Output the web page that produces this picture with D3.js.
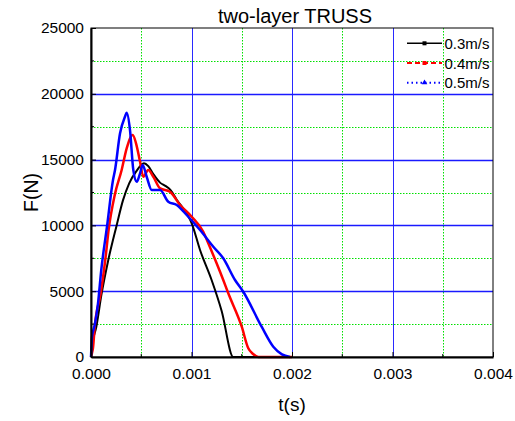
<!DOCTYPE html>
<html>
<head>
<meta charset="utf-8">
<script src="https://cdn.jsdelivr.net/npm/d3@7"></script>
<style>
    body { margin: 0; background: #fff; }
    svg { font-family: 'Liberation Sans', Arial, sans-serif; }
</style>
</head>
<body>
<svg id="chart" width="515" height="421"></svg>
<script>
'use strict';

// series values: [t (s), F (N)]
var speed03 = [
    [0, 0], [0.000008, 800], [0.00002, 1300], [0.000053, 2300], [0.000103, 4700], [0.000170, 7300],
    [0.000255, 10000], [0.000318, 11900], [0.000380, 13200], [0.000450, 14100], [0.000527, 14720],
    [0.000570, 14500], [0.000620, 13900], [0.000687, 13250], [0.000740, 13000], [0.000790, 12700],
    [0.000853, 11950], [0.000952, 10900], [0.001002, 10160], [0.001085, 8130], [0.001200, 5850],
    [0.001300, 3500], [0.001416, 0], [0.002000, 0]
];
var speed04 = [
    [0, 0], [0.00001, 300], [0.00002, 700], [0.000037, 2300], [0.000097, 4860], [0.000142, 7370],
    [0.000176, 9700], [0.000236, 12300], [0.000305, 14210], [0.000355, 15860], [0.000415, 16870],
    [0.000448, 16240], [0.000488, 14840], [0.000520, 13700], [0.000570, 14210], [0.000620, 13700],
    [0.000687, 12820], [0.000786, 12560], [0.000886, 11550], [0.001002, 10660], [0.001117, 9520],
    [0.001167, 8640], [0.001250, 7120], [0.001316, 5850], [0.001366, 4840], [0.001500, 2300],
    [0.001565, 660], [0.001610, 250], [0.001665, 0], [0.002000, 0]
];
var speed05 = [
    [0, 0], [0.000005, 900], [0.00001, 1540], [0.000037, 2430], [0.000070, 4100], [0.000102, 6610],
    [0.000159, 9900], [0.000219, 13450], [0.000239, 14210], [0.000289, 17000], [0.000340, 18300],
    [0.000355, 18560], [0.000388, 17250], [0.000421, 14210], [0.000455, 13320], [0.000488, 13960],
    [0.000514, 14590], [0.000554, 13700], [0.000604, 12690], [0.000687, 12690], [0.000769, 11800],
    [0.000853, 11550], [0.000952, 10790], [0.001085, 9650], [0.001217, 8380], [0.001316, 7500],
    [0.001433, 5850], [0.001515, 4960], [0.001698, 2300], [0.001814, 780], [0.001900, 200],
    [0.001980, 0]
];

var seriesNames = ['0.3m/s', '0.4m/s', '0.5m/s'];
var xTicks = [0, 0.001, 0.002, 0.003, 0.004];
var yTicks = [0, 5000, 10000, 15000, 20000, 25000];

var svg = d3.select('#chart');
var plotLeft = 91, plotRight = 493, plotTop = 28, plotBottom = 357;

var x = d3.scaleLinear().domain([0, 0.004]).range([plotLeft, plotRight]);
var y = d3.scaleLinear().domain([0, 25000]).range([plotBottom, plotTop]);

// snap a 1px grid line onto the pixel grid so it stays crisp
function crisp(v) { return Math.round(v) + 0.5; }

// minor grid (green dotted)
var xMinor = d3.range(0.0005, 0.004, 0.001);
var yMinor = d3.range(2500, 25000, 5000);

svg.append('g').selectAll('line').data(xMinor).enter().append('line')
    .attr('x1', function (d) { return crisp(x(d)); }).attr('x2', function (d) { return crisp(x(d)); })
    .attr('y1', plotTop).attr('y2', plotBottom)
    .attr('stroke', '#00e000').attr('stroke-width', 1).attr('stroke-dasharray', '1.5,1.5');
svg.append('g').selectAll('line').data(yMinor).enter().append('line')
    .attr('y1', function (d) { return crisp(y(d)); }).attr('y2', function (d) { return crisp(y(d)); })
    .attr('x1', plotLeft).attr('x2', plotRight)
    .attr('stroke', '#00e000').attr('stroke-width', 1).attr('stroke-dasharray', '1.5,1.5');

// major grid (blue)
svg.append('g').selectAll('line').data(xTicks.slice(1, -1)).enter().append('line')
    .attr('x1', function (d) { return crisp(x(d)); }).attr('x2', function (d) { return crisp(x(d)); })
    .attr('y1', plotTop).attr('y2', plotBottom)
    .attr('stroke', '#2a2aff').attr('stroke-width', 1);
svg.append('g').selectAll('line').data(yTicks.slice(1, -1)).enter().append('line')
    .attr('y1', function (d) { return crisp(y(d)); }).attr('y2', function (d) { return crisp(y(d)); })
    .attr('x1', plotLeft).attr('x2', plotRight)
    .attr('stroke', '#1a1aff').attr('stroke-width', 1.3);

// curves
var line = d3.line().curve(d3.curveMonotoneX)
    .x(function (d) { return x(d[0]); }).y(function (d) { return y(d[1]); });
var series = [
    { name: seriesNames[0], values: speed03, color: '#000000', width: 2 },
    { name: seriesNames[1], values: speed04, color: '#ff0000', width: 2.5 },
    { name: seriesNames[2], values: speed05, color: '#0000ff', width: 2.5 }
];

svg.append('g').selectAll('path').data(series).enter().append('path')
    .attr('d', function (d) { return line(d.values); })
    .attr('fill', 'none')
    .attr('stroke', function (d) { return d.color; })
    .attr('stroke-width', function (d) { return d.width; })
    .attr('stroke-linejoin', 'round');

// frame
svg.append('rect').attr('x', plotLeft).attr('y', plotTop)
    .attr('width', plotRight - plotLeft).attr('height', plotBottom - plotTop)
    .attr('fill', 'none').attr('stroke', '#000').attr('stroke-width', 1);

// axes, ticks pointing inward
var xAxis = d3.axisBottom(x).tickValues(xTicks).tickSizeInner(-5).tickSizeOuter(0)
    .tickFormat(d3.format('.3f')).tickPadding(11);
var yAxis = d3.axisLeft(y).tickValues(yTicks).tickSizeInner(-5).tickSizeOuter(0)
    .tickFormat(d3.format('d')).tickPadding(7);

var gx = svg.append('g').attr('transform', 'translate(0,' + plotBottom + ')').call(xAxis);
var gy = svg.append('g').attr('transform', 'translate(' + plotLeft + ',0)').call(yAxis);

[gx, gy].forEach(function (g) {
    g.select('.domain').attr('stroke', '#000').attr('stroke-width', 2);
    g.selectAll('.tick line').attr('stroke', '#000').attr('stroke-width', 1);
    g.selectAll('.tick text').attr('font-size', 15.5).attr('fill', '#000')
        .attr('font-family', "'Liberation Sans', Arial, sans-serif");
});

// minor ticks
svg.append('g').selectAll('line').data(xMinor).enter().append('line')
    .attr('x1', function (d) { return x(d); }).attr('x2', function (d) { return x(d); })
    .attr('y1', plotBottom).attr('y2', plotBottom - 3).attr('stroke', '#000');
svg.append('g').selectAll('line').data(yMinor).enter().append('line')
    .attr('y1', function (d) { return y(d); }).attr('y2', function (d) { return y(d); })
    .attr('x1', plotLeft).attr('x2', plotLeft + 3).attr('stroke', '#000');

// titles
svg.append('text').text('two-layer TRUSS')
    .attr('x', 295).attr('y', 22.5).attr('text-anchor', 'middle')
    .attr('font-size', 20);
svg.append('text').text('t(s)')
    .attr('x', (plotLeft + plotRight) / 2).attr('y', 411).attr('text-anchor', 'middle')
    .attr('font-size', 19);
svg.append('text').text('F(N)')
    .attr('transform', 'translate(38,' + (plotTop + plotBottom) / 2 + ') rotate(-90)')
    .attr('text-anchor', 'middle').attr('font-size', 19.5);

// legend
var legend = svg.append('g').selectAll('g').data(series).enter().append('g')
    .attr('transform', function (d, i) { return 'translate(407,' + (43.3 + i * 19.7) + ')'; });

legend.append('line').attr('x1', 0).attr('x2', 35).attr('y1', 0).attr('y2', 0)
    .attr('stroke', function (d) { return d.color; })
    .attr('stroke-width', function (d, i) { return i === 0 ? 1.5 : 2; })
    .attr('stroke-dasharray', function (d, i) { return ['', '5,3', '1.5,3'][i]; });

legend.each(function (d, i) {
    var g = d3.select(this);
    if (i === 2) {
        g.append('path').attr('d', d3.symbol().type(d3.symbolTriangle).size(14)())
            .attr('transform', 'translate(17.5,0)').attr('fill', d.color);
    } else {
        g.append('rect').attr('x', 15.5).attr('y', -2).attr('width', 4).attr('height', 4)
            .attr('fill', d.color);
    }
});

legend.append('text').text(function (d) { return d.name; })
    .attr('x', 37.5).attr('y', 5.5).attr('font-size', 15);
</script>
</body>
</html>
